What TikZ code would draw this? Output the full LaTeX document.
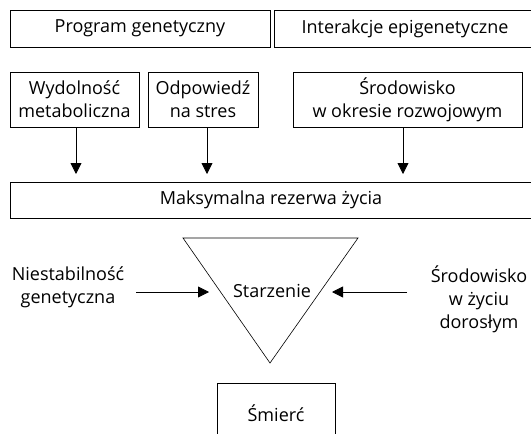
\documentclass[tikz,border=0pt]{standalone}
\usepackage{fontspec}
\setmainfont{Open Sans}
\usetikzlibrary{arrows.meta}
\begin{document}
\begin{tikzpicture}[x=1pt,y=-1pt,
  box/.style={draw,line width=0.8pt,inner sep=0pt,align=center,font=\fontsize{18}{23}\selectfont},
  lbl/.style={inner sep=0pt,align=center,font=\fontsize{18}{23}\selectfont},
  arr/.style={-{Triangle[length=11pt,width=11pt]},line width=0.8pt}]
\useasboundingbox (0,0) rectangle (531,434);
\clip (0,0) rectangle (531,434);
\node[box,minimum width=260,minimum height=37] (pg) at (140,28.5) {Program genetyczny};
\node[box,minimum width=270,minimum height=37] (ie) at (409,28.5) {\hspace*{-8pt}Interakcje epigenetyczne};
\node[box,minimum width=129,minimum height=55] (wm) at (74.5,99.5) {Wydolność\\metaboliczna};
\node[box,minimum width=110,minimum height=55] (os) at (203,99.5) {Odpowiedź\\na stres};
\node[box,minimum width=229,minimum height=55] (sr) at (407.5,99.5) {Środowisko\\w okresie rozwojowym};
\node[box,minimum width=530,minimum height=36] (mr) at (275,200) {\hspace*{-8pt}Maksymalna rezerwa życia};
\coordinate (t1) at (183,238);
\coordinate (t2) at (358,238);
\coordinate (t3) at (270,363);
\draw[line width=0.6pt] (t1) -- (t2) -- (t3) -- cycle;
\node[lbl] (st) at (272,291) {Starzenie};
\node[lbl] (ng) at (68,287) {Niestabilność\\genetyczna};
\node[lbl] (sd) at (479,299) {Środowisko\\w życiu\\dorosłym};
\node[box,minimum width=118,minimum height=70] (sm) at (276,418) {\raisebox{10pt}{Śmierć}};
\coordinate (a1) at (76,174);
\coordinate (a2) at (207,174);
\coordinate (a3) at (403,174);
\draw[arr] (wm.south -| a1) -- (a1);
\draw[arr] (os.south -| a2) -- (a2);
\draw[arr] (sr.south -| a3) -- (a3);
\coordinate (l1) at (136,292);
\coordinate (l2) at (209,292);
\coordinate (r1) at (407,292);
\coordinate (r2) at (332,292);
\draw[arr] (l1) -- (l2);
\draw[arr] (r1) -- (r2);
\end{tikzpicture}
\end{document}
